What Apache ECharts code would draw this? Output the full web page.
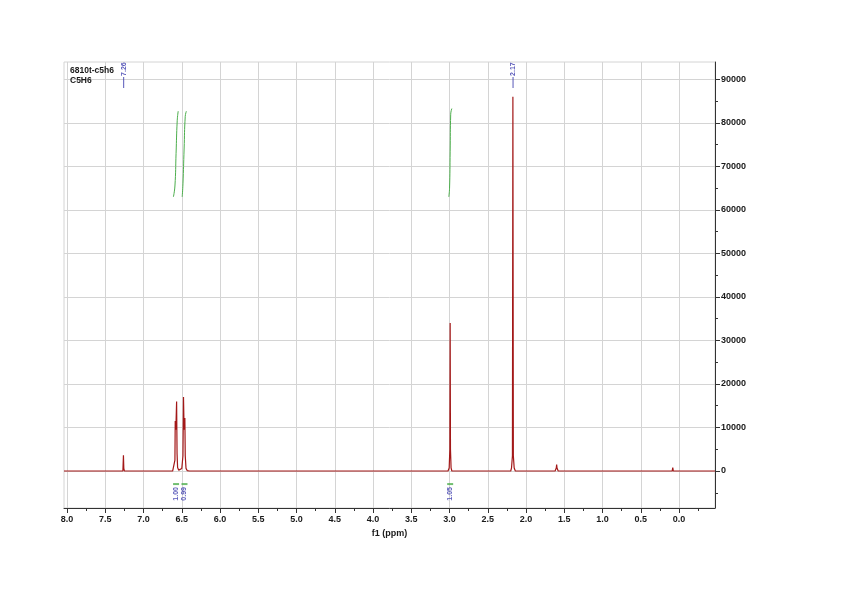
<!DOCTYPE html>
<html><head><meta charset="utf-8">
<script src="https://cdn.jsdelivr.net/npm/echarts@6/dist/echarts.min.js"></script>
<style>html,body{margin:0;padding:0;background:#fff}#c{width:848px;height:599px}</style>
</head><body><div id="c"></div>
<script>
// spectrum (ppm, intensity)
const specPpm = [8.04, 7.60, 7.27, 7.263, 7.258, 7.25, 6.85, 6.83, 6.82, 6.62, 6.60, 6.59, 6.586, 6.578, 6.568, 6.562, 6.555, 6.54, 6.52, 6.50, 6.485, 6.478, 6.470, 6.460, 6.455, 6.445, 6.43, 6.40, 6.30, 6.29, 6.28, 5.52, 5.51, 5.50, 3.22, 3.215, 3.21, 3.02, 3.005, 2.996, 2.992, 2.988, 2.98, 2.97, 2.78, 2.775, 2.77, 2.42, 2.415, 2.41, 2.20, 2.19, 2.178, 2.172, 2.166, 2.155, 2.14, 2.05, 2.045, 2.04, 1.62, 1.605, 1.60, 1.595, 1.58, 1.48, 1.475, 1.47, 0.09, 0.082, 0.075, -0.47];
const specInt = [0, 0, 0, 3600, 600, 0, 0, 250, 0, 0, 400, 2500, 11500, 9500, 16000, 4000, 800, 200, 100, 600, 3500, 17000, 9500, 12200, 3500, 600, 100, 0, 0, 250, 0, 0, 250, 0, 0, 400, 0, 0, 700, 5000, 34000, 5000, 700, 0, 0, 300, 0, 0, 300, 0, 0, 700, 3500, 86000, 3500, 700, 0, 0, 300, 0, 0, 700, 1500, 700, 0, 0, 250, 0, 0, 800, 0, 0];

// integral curves
const int1Ppm = [6.61, 6.59, 6.575, 6.56, 6.547];
const int1Val = [63000, 65500, 73000, 80500, 82700];
const int2Ppm = [6.495, 6.485, 6.47, 6.455, 6.44];
const int2Val = [63000, 66000, 74000, 81500, 82700];
const int3Ppm = [3.01, 3.0, 2.992, 2.985, 2.97];
const int3Val = [63000, 65000, 73500, 82000, 83300];

// peak picks and integral values
const peakPpm = [7.26, 2.17];
const peakText = ['7.26', '2.17'];
const intLabelPpm = [6.575, 6.465, 2.992];
const intLabelText = ['1.00', '0.99', '1.05'];

// axis ticks
const xMajor = [0.0, 0.5, 1.0, 1.5, 2.0, 2.5, 3.0, 3.5, 4.0, 4.5, 5.0, 5.5, 6.0, 6.5, 7.0, 7.5, 8.0];
const xMinor = [-0.25, 0.25, 0.75, 1.25, 1.75, 2.25, 2.75, 3.25, 3.75, 4.25, 4.75, 5.25, 5.75, 6.25, 6.75, 7.25, 7.75];
const yMajor = [0, 10000, 20000, 30000, 40000, 50000, 60000, 70000, 80000, 90000];
const yMinor = [-5000, 5000, 15000, 25000, 35000, 45000, 55000, 65000, 75000, 85000];

const X_MIN = -0.47, X_MAX = 8.04, Y_MIN = -8500, Y_MAX = 94000;
const FONT = 'Liberation Sans';
const zip = (a, b) => a.map((v, i) => [v, b[i]]);

const chart = echarts.init(document.getElementById('c'), null, {renderer: 'canvas'});
const axisCol = '#333';
const gridCol = '#d4d4d4';
const blue = '#2e2ea8';
const green = '#4cae4c';
const txt = '#1a1a1a';

const intSeries = [[int1Ppm, int1Val], [int2Ppm, int2Val], [int3Ppm, int3Val]].map(p => ({
  type: 'line', data: zip(p[0], p[1]), showSymbol: false, smooth: true,
  lineStyle: {color: green, width: 1}, silent: true, animation: false, z: 3
}));

chart.setOption({
  animation: false,
  backgroundColor: '#fff',
  title: {
    text: '6810t-c5h6\nC5H6', left: 65, top: 61,
    textStyle: {fontFamily: FONT, fontSize: 8.5, fontWeight: 'bold', color: txt, lineHeight: 10}
  },
  grid: {left: 64, right: 133, top: 62, bottom: 91, show: true, borderColor: gridCol, borderWidth: 1},
  xAxis: [{
    type: 'value', inverse: true, min: X_MIN, max: X_MAX, position: 'bottom',
    name: 'f1 (ppm)', nameLocation: 'middle', nameGap: 20,
    nameTextStyle: {fontFamily: FONT, fontSize: 9, fontWeight: 'bold', color: txt},
    axisLine: {show: true, onZero: false, lineStyle: {color: axisCol, width: 1}},
    axisTick: {show: true, customValues: xMajor, length: 5, lineStyle: {color: axisCol}},
    axisLabel: {customValues: xMajor, formatter: v => Number(v).toFixed(1), fontFamily: FONT, fontSize: 9, fontWeight: 'bold', color: txt, margin: 7},
    splitLine: {show: true, lineStyle: {color: gridCol, width: 1}}
  }, {
    type: 'value', inverse: true, min: X_MIN, max: X_MAX, position: 'bottom',
    axisLine: {show: false, onZero: false},
    axisTick: {show: true, customValues: xMinor, length: 3, lineStyle: {color: axisCol}},
    axisLabel: {show: false}, splitLine: {show: false}
  }],
  yAxis: [{
    type: 'value', min: Y_MIN, max: Y_MAX, position: 'right',
    axisLine: {show: true, onZero: false, lineStyle: {color: axisCol, width: 1}},
    axisTick: {show: true, customValues: yMajor, length: 5, lineStyle: {color: axisCol}},
    axisLabel: {customValues: yMajor, formatter: v => String(v), fontFamily: FONT, fontSize: 9, fontWeight: 'bold', color: txt, margin: 6},
    splitLine: {show: true, lineStyle: {color: gridCol, width: 1}}
  }, {
    type: 'value', min: Y_MIN, max: Y_MAX, position: 'right',
    axisLine: {show: false, onZero: false},
    axisTick: {show: true, customValues: yMinor, length: 3, lineStyle: {color: axisCol}},
    axisLabel: {show: false}, splitLine: {show: false}
  }],
  series: [{
    type: 'line', data: zip(specPpm, specInt), showSymbol: false,
    lineStyle: {color: '#a31818', width: 1.2}, silent: true, z: 4
  }].concat(intSeries).concat([{
    type: 'scatter', data: peakPpm.map((p, i) => ({value: [p, 89300], name: peakText[i]})),
    symbol: 'rect', symbolSize: [1, 11], itemStyle: {color: blue}, z: 6, silent: true,
    label: {show: true, formatter: p => p.name, position: 'top', rotate: 90, align: 'left', verticalAlign: 'middle',
      distance: 1, fontFamily: FONT, fontSize: 7, fontWeight: 'bold', color: blue}
  }, {
    type: 'scatter', data: intLabelPpm.map((p, i) => ({value: [p, -3000], name: intLabelText[i]})),
    symbol: 'rect', symbolSize: [6, 2], itemStyle: {color: green}, z: 6, silent: true,
    label: {show: true, formatter: p => p.name, position: 'bottom', rotate: 90, align: 'right', verticalAlign: 'middle',
      distance: 2, fontFamily: FONT, fontSize: 7, fontWeight: 'bold', color: blue}
  }])
});
</script>
</body></html>
